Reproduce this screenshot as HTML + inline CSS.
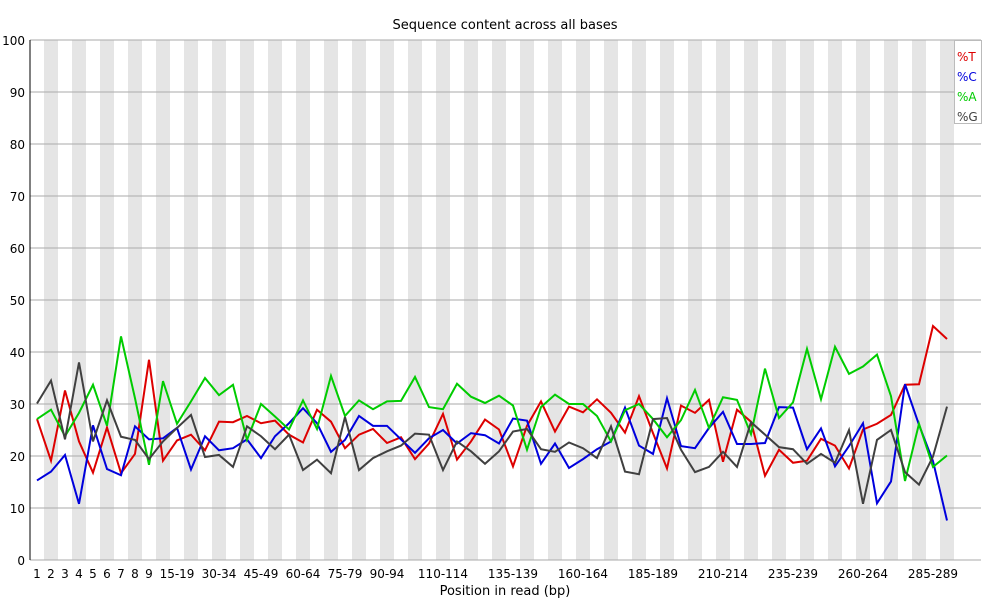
<!DOCTYPE html>
<html><head><meta charset="utf-8">
<style>
body{margin:0;background:#fff;}
svg{display:block;font-family:"DejaVu Sans","Liberation Sans",sans-serif;}
</style></head>
<body>
<svg id="chart" width="990" height="600" viewBox="0 0 990 600">
<rect x="0" y="0" width="990" height="600" fill="#fff"/>
<g id="bands"></g>
<g id="grid"></g>
<g id="lines"></g>
<g id="axes"></g>
<text x="505" y="29" text-anchor="middle" font-size="13">Sequence content across all bases</text>
<text x="505" y="595" text-anchor="middle" font-size="13">Position in read (bp)</text>
<g>
<rect x="954.5" y="40.5" width="27" height="83" fill="#fff" stroke="#bbb"/>
<text x="957" y="61" font-size="12" fill="#dd0000">%T</text>
<text x="957" y="81" font-size="12" fill="#0000dd">%C</text>
<text x="957" y="101" font-size="12" fill="#00cc00">%A</text>
<text x="957" y="121" font-size="12" fill="#404040">%G</text>
</g>
</svg>
<script>
const categories = (function(){const c=[];for(let i=1;i<=9;i++)c.push(String(i));for(let s=10;s<=290;s+=5)c.push(s+'-'+(s+4));return c;})();
const shownLabels = ['1','2','3','4','5','6','7','8','9','15-19','30-34','45-49','60-64','75-79','90-94','110-114','135-139','160-164','185-189','210-214','235-239','260-264','285-289'];
const seriesT = [27.1,19.1,32.6,22.8,16.8,25.5,16.7,20.4,38.5,19.1,23,24.1,21.1,26.6,26.5,27.7,26.3,26.8,24.1,22.6,28.9,26.6,21.5,24.1,25.2,22.5,23.6,19.4,22.4,28.1,19.3,22.8,27,25.1,18,25.8,30.5,24.7,29.5,28.4,30.9,28.3,24.5,31.5,24.4,17.6,29.7,28.3,30.8,18.9,28.9,26.6,16.2,21.2,18.7,19.1,23.3,22,17.6,25.1,26.2,27.9,33.7,33.8,45,42.5];
const seriesC = [15.3,17,20.2,10.8,25.9,17.5,16.3,25.7,23.2,23.4,25.4,17.4,23.8,21.1,21.5,23.2,19.6,23.8,26.3,29.2,26.3,20.8,23.1,27.7,25.8,25.8,23.2,20.6,23.4,25,22.4,24.4,24,22.4,27.2,26.8,18.5,22.4,17.7,19.4,21.3,22.8,29.3,22,20.4,31.1,21.9,21.5,25.4,28.5,22.3,22.3,22.5,29.4,29.3,21.3,25.3,18,21.9,26.3,10.9,15.1,33.8,26,19,7.6];
const seriesA = [27.1,28.9,23.8,28.3,33.7,25.8,43,31.1,18.3,34.4,26.2,30.5,35,31.7,33.7,23.1,30,27.6,25.1,30.7,25.2,35.4,27.7,30.7,29,30.5,30.6,35.2,29.4,29,33.9,31.4,30.2,31.6,29.7,21.2,29.4,31.8,30,30,27.7,22.8,28.8,30,27.1,23.6,26.9,32.7,25.4,31.3,30.8,24.2,36.8,27.3,30.3,40.6,30.9,41,35.8,37.2,39.5,31.5,15.2,26.2,17.9,20.1];
const seriesG = [30.1,34.5,23.2,38,22.8,30.7,23.7,23.1,19.4,22.8,25.4,27.9,19.8,20.2,17.9,25.7,23.8,21.3,24.1,17.3,19.3,16.7,27.5,17.3,19.6,20.9,22,24.3,24.1,17.3,22.8,20.9,18.5,20.9,24.7,25.2,21.3,20.8,22.6,21.5,19.6,25.7,17,16.5,27.1,27.3,21.2,16.9,17.9,20.8,17.9,26.5,24.1,21.7,21.3,18.5,20.4,18.7,25,10.8,23.1,25,16.9,14.5,19.9,29.5];
const yTicks = [0,10,20,30,40,50,60,70,80,90,100];

const NS='http://www.w3.org/2000/svg';
const L=30,R=981,T=40,B=560,BW=14;
function xPos(i){return L+BW*(i+0.5);}
function yPos(v){return B-(v/100)*(B-T);}
function mk(tag,attrs,parent){const e=document.createElementNS(NS,tag);for(const k in attrs)e.setAttribute(k,attrs[k]);parent.appendChild(e);return e;}
const bands=document.getElementById('bands'),grid=document.getElementById('grid'),lines=document.getElementById('lines'),axes=document.getElementById('axes');
categories.forEach((c,i)=>{
  if(i%2===1){
    const r=mk('rect',{x:L+BW*i,y:T,width:BW,height:B-T,fill:'#e5e5e5'},bands);
    
    
  }
  if(shownLabels.indexOf(c)>=0){
    const t=mk('text',{x:xPos(i),y:B+18,'text-anchor':'middle','font-size':12},axes);
    t.textContent=c;
    
    
  }
});
yTicks.forEach(v=>{
  const y=yPos(v);
  const gl=mk('line',{x1:L,x2:R,y1:y,y2:y,stroke:'#aaa','stroke-width':1},grid);
  
  
  const t=mk('text',{x:25,y:y+5,'text-anchor':'end','font-size':12},axes);
  t.textContent=v;
  
  
});
const ax=mk('line',{x1:L,x2:L,y1:T,y2:B,stroke:'#000','stroke-width':1},axes);


[[seriesT,'#dd0000','t'],[seriesC,'#0000dd','c'],[seriesA,'#00cc00','a'],[seriesG,'#404040','g']].forEach(([d,col,n])=>{
  const p=mk('polyline',{points:d.map((v,i)=>xPos(i)+','+yPos(v)).join(' '),fill:'none',stroke:col,'stroke-width':2,'stroke-linejoin':'miter'},lines);
  
  
});
</script>
</body></html>
